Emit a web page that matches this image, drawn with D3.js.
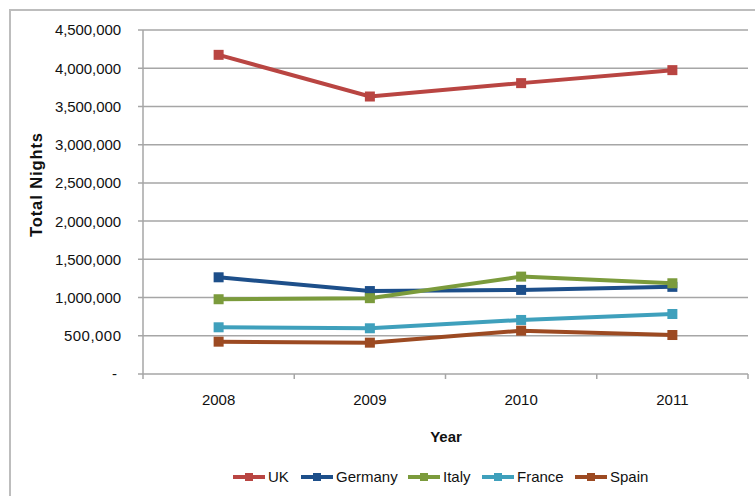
<!DOCTYPE html>
<html><head><meta charset="utf-8">
<script src="https://cdn.jsdelivr.net/npm/d3@7"></script>
<style>body{margin:0;background:#fff}svg{display:block;font-family:"Liberation Sans",Arial,sans-serif}</style>
</head><body><svg id="c" width="755" height="496"></svg>
<script>
const years = ["2008","2009","2010","2011"];
const seriesNames = ["UK","Germany","Italy","France","Spain"];
const seriesColors = ["#b94542","#1d4f8a","#7b9b3c","#3fa0bc","#9c4a22"];
const uk = [4175000, 3630000, 3805000, 3975000];
const germany = [1265000, 1085000, 1100000, 1140000];
const italy = [978000, 992000, 1274000, 1187000];
const france = [611000, 598000, 707000, 785000];
const spain = [423000, 410000, 567000, 510000];
const yTicks = [0,500000,1000000,1500000,2000000,2500000,3000000,3500000,4000000,4500000];
const seriesValues = [uk, germany, italy, france, spain];

const svg = d3.select("#c");
const L = 143, R = 748, T = 30, B = 374;
const x = d3.scaleBand().domain(years).range([L, R]).padding(0);
const y = d3.scaleLinear().domain([0, 4500000]).range([B, T]);

svg.append("rect").attr("x",10).attr("y",10).attr("width",800).attr("height",600)
  .attr("fill","none").attr("stroke","#bdbdbd").attr("stroke-width",2);

const fmt = d3.format(",");
svg.append("g").selectAll("line").data(yTicks).join("line")
  .attr("x1", L-5).attr("x2", R).attr("y1", d=>y(d)).attr("y2", d=>y(d))
  .attr("stroke","#a6a6a6").attr("stroke-width",1.5);
svg.append("g").selectAll("text").data(yTicks).join("text")
  .attr("x", d => d===0 ? 117 : 121).attr("y", d=>y(d)).attr("dy","0.36em")
  .attr("text-anchor","end").attr("font-size",15).attr("fill","#111")
  .attr("textLength", d => d===0 ? null : (d>=1000000 ? 66 : 57))
  .text(d => d===0 ? "-" : fmt(d));
svg.append("line").attr("x1",L).attr("x2",L).attr("y1",T).attr("y2",B)
  .attr("stroke","#a6a6a6").attr("stroke-width",1.5);

// x axis
const xAxis = svg.append("g").attr("transform",`translate(0,${B})`)
  .call(d3.axisBottom(x).tickSize(0).tickPadding(20));
xAxis.select(".domain").remove();
xAxis.selectAll(".tick text").attr("font-size",15).attr("fill","#111").attr("font-family","Liberation Sans, Arial, sans-serif");
const bounds = [L].concat(years.map(d => x(d)+x.bandwidth()));
svg.append("g").selectAll("line").data(bounds).join("line")
  .attr("x1",d=>d).attr("x2",d=>d).attr("y1",B).attr("y2",B+5)
  .attr("stroke","#a6a6a6").attr("stroke-width",1.5);

// titles
svg.append("text").attr("x",446).attr("y",442).attr("text-anchor","middle")
  .attr("font-size",15).attr("font-weight","bold").attr("fill","#111").text("Year");
svg.append("text").attr("transform","translate(42,185) rotate(-90)").attr("text-anchor","middle")
  .attr("font-size",16.5).attr("font-weight","bold").attr("fill","#111")
  .attr("textLength",104).text("Total Nights");

// lines
const line = d3.line().x((d,i)=>x(years[i])+x.bandwidth()/2).y(d=>y(d));
seriesValues.forEach((vals, si) => {
  const g = svg.append("g");
  g.append("path").attr("d", line(vals)).attr("fill","none")
    .attr("stroke", seriesColors[si]).attr("stroke-width",4);
  g.selectAll("rect").data(vals).join("rect")
    .attr("x",(d,i)=>x(years[i])+x.bandwidth()/2-5).attr("y",d=>y(d)-5)
    .attr("width",10).attr("height",10).attr("fill",seriesColors[si]);
});

// legend
const legX = [233, 301, 408, 482, 575];
const lg = svg.append("g");
seriesNames.forEach((n, i) => {
  const gx = legX[i], gy = 477;
  lg.append("line").attr("x1",gx).attr("x2",gx+32).attr("y1",gy).attr("y2",gy)
    .attr("stroke",seriesColors[i]).attr("stroke-width",4);
  lg.append("rect").attr("x",gx+12).attr("y",gy-4).attr("width",8).attr("height",8).attr("fill",seriesColors[i]);
  lg.append("text").attr("x",gx+35).attr("y",gy).attr("dy","0.36em")
    .attr("font-size",15).attr("fill","#111").text(n);
});
</script></body></html>
